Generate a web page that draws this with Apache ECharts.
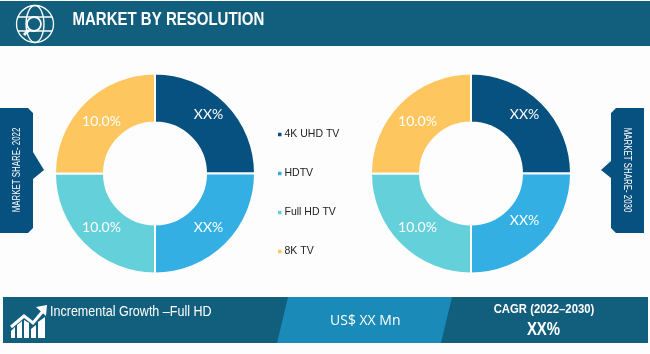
<!DOCTYPE html>
<html>
<head>
<meta charset="utf-8">
<style>
html, body { margin: 0; padding: 0; background: #fdfdfd; }
#chart { width: 650px; height: 354px; }
</style>
<script src="https://cdn.jsdelivr.net/npm/echarts@6/dist/echarts.min.js"></script>
</head>
<body>
<div id="chart"></div>
<script>
const categories = ['4K UHD TV', 'HDTV', 'Full HD TV', '8K TV']
const colors = ['#06517f', '#33afe3', '#63d0da', '#fec65f']
const values2022 = [25, 25, 25, 25]
const values2030 = [25, 25, 25, 25]
const labels2022 = ['XX%', 'XX%', '10.0%', '10.0%']
const labels2030 = ['XX%', 'XX%', '10.0%', '10.0%']

const dark = '#125e7d'
const mid = '#1a8ab8'
const navy = '#06517f'

function donut(name, center, values, labels, offsets) {
	return {
		name: name,
		type: 'pie',
		center: center,
		radius: [51, 100],
		startAngle: 90,
		silent: true,
		itemStyle: { borderColor: '#fdfdfd', borderWidth: 2 },
		label: {
			position: 'inside',
			fontFamily: 'Lato',
			fontSize: 14,
			color: '#fff',
			formatter: p => labels[p.dataIndex],
		},
		labelLine: { show: false },
		data: categories.map((c, i) => ({
			name: c,
			value: values[i],
			itemStyle: { color: colors[i] },
			label: { offset: offsets[i] },
		})),
	}
}

function text(x, y, str, size, opts) {
	opts = opts || {}
	return {
		type: 'text',
		x: x,
		y: y,
		rotation: opts.rotation || 0,
		scaleX: opts.scaleX || 1,
		style: Object.assign({
			text: str,
			fill: '#fff',
			fontFamily: 'Liberation Sans',
			fontSize: size,
			align: 'left',
			verticalAlign: 'middle',
		}, opts.style),
	}
}

function poly(points, fill) {
	return { type: 'polygon', shape: { points: points }, style: { fill: fill } }
}

const white = { stroke: '#fff', fill: 'none', lineWidth: 1.3 }

// globe with magnifier in the title bar
const globeIcon = [
	{ type: 'circle', shape: { cx: 35, cy: 24, r: 18.5 }, style: white },
	{ type: 'ellipse', shape: { cx: 35, cy: 24, rx: 9, ry: 18.5 }, style: white },
	{ type: 'line', shape: { x1: 18, y1: 17, x2: 52, y2: 17 }, style: white },
	{ type: 'line', shape: { x1: 18, y1: 31, x2: 52, y2: 31 }, style: white },
	{ type: 'circle', shape: { cx: 34, cy: 24, r: 7 }, style: { stroke: '#fff', fill: dark, lineWidth: 1.8 } },
	{ type: 'line', shape: { x1: 29, y1: 30, x2: 24, y2: 35 }, style: { stroke: '#fff', lineWidth: 3 } },
]

// bars and rising arrow in the footer
const growthIcon = [
	poly([[11, 338], [15, 338], [15, 327], [11, 331]], '#fff'),
	poly([[17, 338], [22, 338], [22, 321], [17, 325]], '#fff'),
	poly([[24, 338], [29, 338], [29, 323], [24, 320]], '#fff'),
	poly([[31, 338], [36, 338], [36, 325], [31, 329]], '#fff'),
	poly([[38, 338], [45, 338], [45, 317], [38, 322]], '#fff'),
	{
		type: 'polyline',
		shape: { points: [[11, 327], [24, 316], [33, 323], [43, 311]] },
		style: { stroke: '#fff', fill: 'none', lineWidth: 3 },
	},
	poly([[36, 307], [47, 305], [46, 316]], '#fff'),
]

const option = {
	backgroundColor: '#fdfdfd',
	animation: false,
	legend: {
		orient: 'vertical',
		left: 276,
		top: 129,
		padding: 0,
		itemWidth: 5.5,
		itemHeight: 5.5,
		itemGap: 28,
		icon: 'rect',
		selectedMode: false,
		data: categories,
		textStyle: {
			fontFamily: 'Liberation Sans',
			fontSize: 10.5,
			color: '#222',
			padding: [0, 0, 0, -3],
		},
	},
	series: [
		donut('Market share 2022', [155, 173.5], values2022, labels2022, [[-2, -4], [-2, -2], [2, -2], [2, 3]]),
		donut('Market share 2030', [471, 173.5], values2030, labels2030, [[-2, -4], [-2, -9], [2, -2], [2, 3]]),
	],
	graphic: [
		{ type: 'rect', shape: { x: 0, y: 1, width: 650, height: 45 }, style: { fill: dark } },
		{ type: 'rect', shape: { x: 3, y: 297, width: 645, height: 46 }, style: { fill: dark } },
		poly([[288, 297], [452, 297], [441, 343], [277, 343]], mid),
		poly([[0, 108], [28, 108], [33, 113], [33, 152], [44, 170], [33, 179], [33, 228], [28, 233], [0, 233]], navy),
		poly([[616, 108], [644, 108], [644, 233], [616, 233], [611, 228], [611, 178], [601, 170], [611, 161], [611, 113]], navy),
		...globeIcon,
		...growthIcon,
		text(72.5, 20, 'MARKET BY RESOLUTION', 19, { scaleX: 0.79, style: { fontWeight: 'bold' } }),
		text(50, 312, 'Incremental Growth \u2013Full HD', 14, { scaleX: 0.895 }),
		text(330, 321, 'US$ XX Mn', 14, { style: { fontFamily: 'Open Sans' } }),
		text(544, 309, 'CAGR (2022\u20132030)', 13, { scaleX: 0.87, style: { align: 'center', fontWeight: 'bold' } }),
		text(543.5, 330, 'XX%', 18, { scaleX: 0.83, style: { align: 'center', fontWeight: 'bold' } }),
		text(17, 170, 'MARKET SHARE- 2022', 10, { rotation: Math.PI / 2, scaleX: 0.79, style: { align: 'center' } }),
		text(627, 170, 'MARKET SHARE- 2030', 10, { rotation: -Math.PI / 2, scaleX: 0.79, style: { align: 'center' } }),
	],
}

const chart = echarts.init(document.getElementById('chart'), null, { renderer: 'canvas' })
chart.setOption(option)
</script>
</body>
</html>
